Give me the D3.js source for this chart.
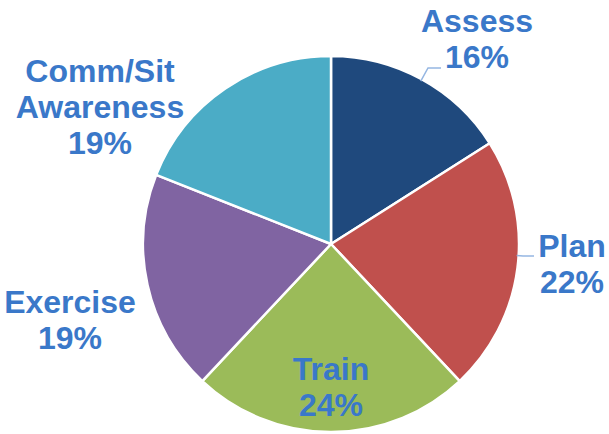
<!DOCTYPE html>
<html>
<head>
<meta charset="utf-8">
<script src="https://cdn.jsdelivr.net/npm/d3@7"></script>
<style>
  html, body { margin: 0; padding: 0; background: #fff; }
  svg { display: block; }
</style>
</head>
<body>
<svg id="chart" width="609" height="434"></svg>
<script>
// Share of effort by phase
const categories = ["Assess", "Plan", "Train", "Exercise", "Comm/Sit Awareness"];
const values = [16, 22, 24, 19, 19];
const colors = ["#1F497D", "#C0504D", "#9BBB59", "#8064A2", "#4BACC6"];

// Label text lines per slice (name may wrap)
const labelLines = [["Assess"], ["Plan"], ["Train"], ["Exercise"], ["Comm/Sit", "Awareness"]];

// Layout
const W = 609, H = 434;
const cx = 331, cy = 244, R = 188;
const labelColor = "#3A78C9";
const leaderColor = "#95B6E2";
const fontSize = 32, lineH = 36;

// Label anchors (center x, first baseline y) and leader-line elbows
const labelAnchors = [
  { x: 477, y: 32, leader: [[428, 68], [441, 68]] },
  { x: 572, y: 257, leader: [[523, 256], [534, 256]] },
  { x: 331, y: 380, leader: null },
  { x: 70, y: 313, leader: null },
  { x: 100, y: 82, leader: null }
];

const svg = d3.select("#chart");
const g = svg.append("g").attr("transform", `translate(${cx},${cy})`);

const data = categories.map((c, i) => ({ name: c, value: values[i], color: colors[i], idx: i }));

const pie = d3.pie().sort(null).value(d => d.value);
const arc = d3.arc().innerRadius(0).outerRadius(R);
const arcs = pie(data);

g.selectAll("path.slice")
  .data(arcs)
  .join("path")
  .attr("class", "slice")
  .attr("d", arc)
  .attr("fill", d => d.data.color)
  .attr("stroke", "#fff")
  .attr("stroke-width", 2.5)
  .attr("stroke-linejoin", "round");

// Leader lines: start on the slice edge along the direction toward the elbow
arcs.forEach((a, i) => {
  const lab = labelAnchors[i];
  if (!lab.leader) return;
  const [ex, ey] = lab.leader[0];
  const ang = Math.atan2(ey - cy, ex - cx);
  const sx = cx + (R - 2) * Math.cos(ang);
  const sy = cy + (R - 2) * Math.sin(ang);
  const pts = [[sx, sy], ...lab.leader];
  svg.append("path")
    .attr("d", d3.line()(pts))
    .attr("fill", "none")
    .attr("stroke", leaderColor)
    .attr("stroke-width", 1.5);
});

// Labels
arcs.forEach((a, i) => {
  const lab = labelAnchors[i];
  const lines = labelLines[i].concat([values[i] + "%"]);
  const t = svg.append("text")
    .attr("text-anchor", "middle")
    .attr("font-family", "Liberation Sans, Arial, sans-serif")
    .attr("font-weight", "bold")
    .attr("font-size", fontSize)
    .attr("fill", labelColor);
  lines.forEach((ln, k) => {
    t.append("tspan")
      .attr("x", lab.x)
      .attr("y", lab.y + k * lineH)
      .text(ln);
  });
});
</script>
</body>
</html>
